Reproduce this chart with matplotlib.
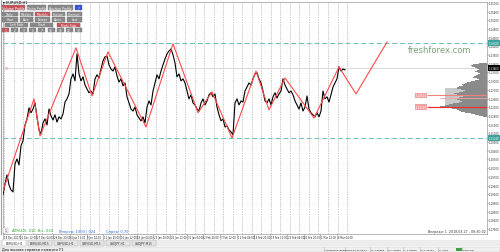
import numpy as np
import matplotlib
matplotlib.use("Agg")
import matplotlib.pyplot as plt
from matplotlib.patches import Rectangle
from matplotlib.transforms import blended_transform_factory

W, H = 500, 253

# EURUSD H1 - one close read every 2 bars
bars = np.arange(1, 346, 2)
closes = [
    1.1921, 1.1908, 1.1946, 1.1977, 1.1942, 1.1925, 1.1918, 1.2015, 1.2032, 1.2011,
    1.2077, 1.2094, 1.2149, 1.2170, 1.2208, 1.2191, 1.2204, 1.2225, 1.2177, 1.2132,
    1.2118, 1.2156, 1.2170, 1.2149, 1.2204, 1.2180, 1.2166, 1.2184, 1.2159, 1.2177,
    1.2170, 1.2187, 1.2228, 1.2239, 1.2256, 1.2308, 1.2325, 1.2301, 1.2394, 1.2325,
    1.2301, 1.2315, 1.2287, 1.2273, 1.2260, 1.2266, 1.2256, 1.2308, 1.2322, 1.2311,
    1.2342, 1.2370, 1.2384, 1.2387, 1.2356, 1.2342, 1.2335, 1.2349, 1.2318, 1.2297,
    1.2308, 1.2284, 1.2294, 1.2246, 1.2225, 1.2204, 1.2197, 1.2211, 1.2184, 1.2173,
    1.2163, 1.2177, 1.2156, 1.2211, 1.2232, 1.2218, 1.2266, 1.2294, 1.2322, 1.2308,
    1.2335, 1.2356, 1.2377, 1.2394, 1.2404, 1.2411, 1.2391, 1.2363, 1.2315, 1.2325,
    1.2301, 1.2308, 1.2294, 1.2266, 1.2239, 1.2253, 1.2225, 1.2218, 1.2204, 1.2197,
    1.2225, 1.2239, 1.2218, 1.2232, 1.2253, 1.2260, 1.2246, 1.2256, 1.2211, 1.2184,
    1.2163, 1.2170, 1.2142, 1.2146, 1.2132, 1.2125, 1.2115, 1.2225, 1.2239, 1.2218,
    1.2232, 1.2228, 1.2266, 1.2280, 1.2294, 1.2287, 1.2308, 1.2325, 1.2329, 1.2308,
    1.2294, 1.2266, 1.2232, 1.2225, 1.2239, 1.2218, 1.2246, 1.2260, 1.2242, 1.2256,
    1.2266, 1.2308, 1.2287, 1.2273, 1.2260, 1.2266, 1.2253, 1.2232, 1.2218, 1.2204,
    1.2225, 1.2197, 1.2211, 1.2249, 1.2204, 1.2191, 1.2184, 1.2177, 1.2191, 1.2177,
    1.2197, 1.2266, 1.2239, 1.2246, 1.2228, 1.2253, 1.2280, 1.2294, 1.2308, 1.2349,
    1.2335, 1.2342, 1.2339,
]

# zigzag pivots + projection
zz_x = [2, 34, 40, 76, 92, 108, 146, 173, 198, 212, 232, 256, 269, 285, 314, 339]
zz_y = [1.1911, 1.2239, 1.2111, 1.2415, 1.2249, 1.2401, 1.2142, 1.2429, 1.2191,
        1.2263, 1.2104, 1.2335, 1.2201, 1.2311, 1.2173, 1.2349]
proj_x = [339, 356, 387]
proj_y = [1.2349, 1.2256, 1.2435]

level_hi = 1.2432
level_lo = 1.2104
bid = 1.2346

# volume profile (top level, bin size, volumes per bin)
prof_top = 1.2360
prof_step = 0.000345
prof_vol = [8, 14, 16, 15, 12, 10, 8, 10, 12, 9, 7, 9, 11, 13, 14, 10, 8, 12, 16, 20,
            22, 25, 24, 28, 30,
            30, 26, 22, 24, 28, 33, 30, 26, 24, 28, 32, 30, 27, 25, 28, 34, 38, 42,
            47,
            40, 35, 30, 28, 26, 22, 16, 12, 8, 4]
va_from, va_to = 25, 43   # value area bins
poc_lines = [1.2251, 1.2242, 1.2211]

price_ticks = np.round(np.arange(1.2570, 1.1775, -0.0030), 4)

time_labels = ["18 Dec 2017", "21 Dec 12:00", "27 Dec 04:00", "29 Dec 20:00", "4 Jan 12:00",
               "9 Jan 04:00", "11 Jan 20:00", "16 Jan 12:00", "19 Jan 04:00", "23 Jan 20:00",
               "26 Jan 12:00", "31 Jan 04:00", "2 Feb 20:00", "7 Feb 12:00", "12 Feb 04:00",
               "14 Feb 20:00", "19 Feb 12:00", "22 Feb 04:00", "26 Feb 20:00", "1 Mar 12:00",
               "6 Mar 04:00"]

tabs = ["EURUSD,H1", "EURUSD,M15", "GBPUSD,H1", "GBPUSD,M15", "USDJPY,H1", "USDJPY,M15"]

fig = plt.figure(figsize=(W / 100, H / 100), dpi=100)
fig.patch.set_facecolor("white")
plt.rcParams["font.family"] = ["DejaVu Sans"]


def fx(x):
    return x / W


def fy(y):
    return 1 - y / H


def box(x0, y0, x1, y1, face, edge="#7a7a7a", lw=0.3, z=2):
    fig.patches.append(Rectangle((fx(x0), fy(y1)), (x1 - x0) / W, (y1 - y0) / H,
                                 transform=fig.transFigure, facecolor=face,
                                 edgecolor=edge, lw=lw, zorder=z))


def label(x, y, s, size=2.4, color="black", ha="left", z=3):
    fig.text(fx(x), fy(y), s, fontsize=size, color=color, ha=ha, va="center", zorder=z)


ax = fig.add_axes([fx(3), fy(235), (487 - 3) / W, (235 - 3) / H])
ax.set_xlim(3, 487)
ax.set_ylim(1.1773, 1.2573)
ax.set_xticks([])
ax.set_yticks([])
for s in ax.spines.values():
    s.set_color("#9a9a9a")
    s.set_linewidth(0.5)

# day separators
for xs in np.arange(4, 348, 9.53):
    ax.axvline(xs, color="#b4b4b4", lw=0.5, dashes=(2, 1.5), zorder=1)

ax.axhline(level_hi, color="#6cbfb8", lw=0.7, dashes=(5, 3), zorder=2)
ax.axhline(level_lo, color="#6cbfb8", lw=0.7, dashes=(5, 3), zorder=2)
ax.axhline(bid, color="#d0d0d0", lw=0.6, zorder=1)

# volume profile
levels = prof_top - prof_step * np.arange(len(prof_vol))
ax.barh(levels[va_from:va_to + 1], [42] * (va_to - va_from + 1), left=487 - 42,
        height=prof_step, color="#c9c9c9", lw=0, zorder=2)
ax.barh(levels, prof_vol, left=487 - np.array(prof_vol), height=prof_step,
        color="#8a8a8a", lw=0, zorder=3)
ax.hlines(poc_lines[0], 427, 487, color="#f08080", lw=0.8, zorder=4)
ax.hlines(poc_lines[1], 440, 487, color="#f4a0a0", lw=0.6, zorder=4)
ax.hlines(poc_lines[2], 427, 487, color="#e83030", lw=0.9, zorder=4)
for p in (poc_lines[0], poc_lines[2]):
    ax.text(421, p, f"{p:.5f}", fontsize=2.0, color="white", ha="center", va="center",
            zorder=5, bbox=dict(boxstyle="square,pad=0.25", fc="#f2a0a0", ec="none"))

ax.plot(bars, closes, color="black", lw=0.8, zorder=5)
ax.plot(zz_x, zz_y, color="#ff4a4a", lw=0.8, zorder=6)
ax.plot(proj_x, proj_y, color="#ff4a4a", lw=0.8, zorder=6)

ax.text(440, 1.2408, "freshforex.com", fontsize=6, color="#7aa07a", ha="center",
        va="center", zorder=7)
ax.text(5, bid, "50", fontsize=2.4, color="#e89070", va="center", zorder=7)

# price scale
trans = blended_transform_factory(fig.transFigure, ax.transData)
for t in price_ticks:
    ax.text(fx(488.8), t, f"{t:.5f}", transform=trans, fontsize=1.9, color="#333333",
            va="center", clip_on=False)
    ax.plot([fx(487), fx(488.3)], [t, t], transform=trans, color="#777777", lw=0.4,
            clip_on=False)
for p, fc in ((level_hi, "#3aa39b"), (level_lo, "#3aa39b"), (bid, "black")):
    ax.text(fx(488.8), p, f"{p:.5f}", transform=trans, fontsize=1.9, color="white",
            va="center", clip_on=False, zorder=8,
            bbox=dict(boxstyle="square,pad=0.3", fc=fc, ec="none"))

# top-left panel
label(3, 3.5, "\u25be EURUSD,H1", size=2.6)
box(2, 6, 25, 11, "#c8545a")
label(13.5, 8.5, "Volume Profile", color="white", ha="center", size=2.3)
box(27, 6, 46, 11, "#888888")
label(36.5, 8.5, "Delta Profile", color="white", ha="center", size=2.3)
box(48, 6, 73, 11, "#888888")
label(60.5, 8.5, "Auction Profile", color="white", ha="center", size=2.3)
box(75, 6, 82, 11, "#3050e0")
label(78.5, 8.5, "?", color="white", ha="center")
row2 = ["Daily", "Weekly", "Monthly", "Custom", "Contract"]
row3 = ["Hour", "Asia", "Europe", "Amer.", "Last"]
xs5 = [(2, 18), (20, 33), (35, 50), (52, 65), (67, 82)]
for i, (a, b) in enumerate(xs5):
    box(a, 12.5, b, 17, "#c8545a" if i == 2 else "#888888")
    label((a + b) / 2, 14.8, row2[i], color="white", ha="center", size=2.2)
    box(a, 18, b, 22.5, "#888888")
    label((a + b) / 2, 20.3, row3[i], color="white", ha="center", size=2.2)
for (a, b), s, c in (((5, 28), "Left Side", "#888888"), ((30, 53), "Chart", "#888888"),
                     ((57, 80), "Right Side", "#c8545a")):
    box(a, 23.5, b, 27.5, c)
    label((a + b) / 2, 25.5, s, color="white", ha="center", size=2.2)
nums = ["1", "2", "3", "5", "7", "10", "15", "20", "30"]
for i, s in enumerate(nums):
    a = 2 + i * 9.1
    box(a, 28.5, a + 7, 32.5, "#c8545a" if i == 0 else "#888888")
    label(a + 3.5, 30.5, s, color="white", ha="center", size=2.2)

# info texts at the bottom of the chart
box(3, 229, 8, 233.5, "white", edge="#999999")
label(5.5, 231.3, "1", size=2.2, ha="center")
label(12, 231.5, "ATR(20): 010  Вч.: 034", color="#2aa02a", size=2.6)
label(59, 231.5, "Вперед: 1000 | 024", color="#2a6ae0", size=2.6)
label(106, 231.5, "Спред: 0.70", color="#2a6ae0", size=2.6)
label(486, 232, "Впереди: 1  2018.03.27 - 08:30:02", size=2.3, ha="right", color="#333333")

# time axis
tx = blended_transform_factory(ax.transData, fig.transFigure)
for i, s in enumerate(time_labels):
    xp = 3 + i * 16.7
    ax.plot([xp, xp], [fy(235), fy(240)], transform=tx, color="#888888", lw=0.4,
            clip_on=False)
    ax.text(xp + 0.8, fy(237.8), s, transform=tx, fontsize=1.8, color="#222222",
            va="center", clip_on=False)

# tabs and status bar
box(0, 240.5, 500, 247, "#ececec", edge="none", z=1)
for i, s in enumerate(tabs):
    a = 2 + i * 26
    box(a, 241, a + 24, 246.5, "white" if i == 0 else "#e4e4e4", edge="#a8a8a8")
    label(a + 12, 243.8, s, ha="center", size=2.2, color="#333333")
box(0, 247.5, 500, 253, "#f0f0f0", edge="#c8c8c8", z=1)
label(2, 250.3, "Для вызова справки нажмите F1", size=2.5)
status = [(325, "Аналитика Фреш"), (345.5, "2018.03.22 03:00"), (371, "O: 1.22659"),
          (387.5, "H: 1.22810"), (404, "L: 1.22630"), (421, "C: 1.22724"),
          (439, "V: 4604"), (463, "893/2 Kb")]
for x0, s in status:
    label(x0, 250.3, s, size=1.7)
    fig.lines.append(plt.Line2D([fx(x0 - 1.0)] * 2, [fy(248), fy(252.5)],
                                transform=fig.transFigure, color="#b0b0b0", lw=0.4))
box(456, 248.5, 461.5, 252, "#4a9a4a", edge="none")

fig.lines.append(plt.Line2D([fx(1)] * 2, [fy(0), fy(235)], transform=fig.transFigure,
                            color="#a0a0a0", lw=0.8))

fig.savefig("out.png", dpi=100)
